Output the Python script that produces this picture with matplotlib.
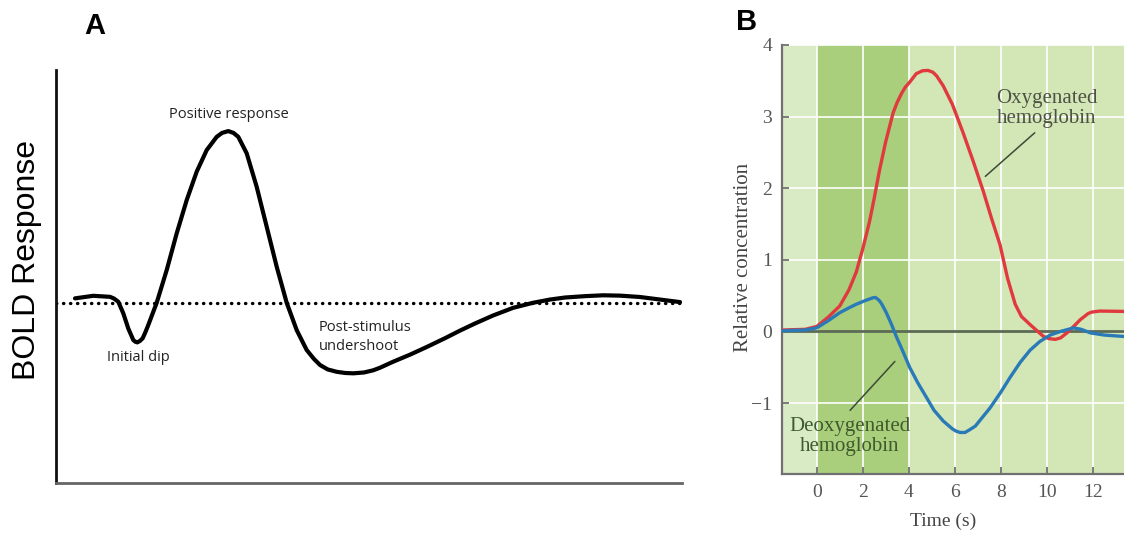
import matplotlib
matplotlib.use('Agg')
import matplotlib.pyplot as plt

# panel A: schematic BOLD response (arbitrary time / amplitude units)
bold_t = [0.759, 1.49, 2.157, 2.316, 2.488, 2.688, 2.887, 3.087, 3.167, 3.247, 3.347, 3.462,
          3.574, 3.686, 4.022, 4.421, 4.82, 5.22, 5.619, 6.018, 6.418, 6.63, 6.881, 7.09,
          7.28, 7.616, 8.015, 8.415, 8.814, 9.213, 9.613, 10.012, 10.3, 10.543, 10.85, 11.21,
          11.55, 11.873, 12.3, 12.672, 12.94, 13.46, 14.14, 14.82, 15.54, 16.13, 16.73,
          17.45, 18.25, 19.05, 19.73, 20.33, 21.13, 21.85, 22.52, 23.32, 24.12, 24.92]
bold_y = [0.026, 0.041, 0.035, 0.025, 0.006, -0.062, -0.151, -0.219, -0.229, -0.233, -0.225,
          -0.209, -0.172, -0.131, 0.0, 0.192, 0.408, 0.604, 0.771, 0.898, 0.976, 0.999, 1.01,
          0.999, 0.976, 0.879, 0.682, 0.447, 0.212, 0.0, -0.161, -0.278, -0.33, -0.366,
          -0.392, -0.406, -0.413, -0.415, -0.41, -0.397, -0.382, -0.347, -0.305, -0.259,
          -0.208, -0.164, -0.122, -0.075, -0.03, 0.0, 0.019, 0.031, 0.039, 0.044, 0.042,
          0.034, 0.019, 0.004]

# panel B: haemoglobin concentration vs time (s)
oxy_t = [-1.52, -0.5, 0, 0.5, 1.0, 1.4, 1.72, 2.0, 2.3, 2.5, 2.73, 3.0, 3.32, 3.5, 3.7,
         3.85, 4.04, 4.33, 4.6, 4.84, 5.05, 5.21, 5.5, 5.9, 6.37, 6.8, 7.24, 7.6, 7.97,
         8.3, 8.63, 8.9, 9.28, 9.86, 10.1, 10.37, 10.6, 10.88, 11.2, 11.46, 11.8, 11.95,
         12.3, 13.36]
oxy_y = [0.02, 0.03, 0.07, 0.2, 0.355, 0.58, 0.83, 1.15, 1.54, 1.86, 2.25, 2.65, 3.05, 3.2,
         3.33, 3.41, 3.48, 3.6, 3.64, 3.645, 3.62, 3.57, 3.43, 3.17, 2.77, 2.38, 1.96, 1.58,
         1.21, 0.74, 0.38, 0.21, 0.095, -0.07, -0.1, -0.11, -0.09, -0.02, 0.08, 0.165, 0.25,
         0.27, 0.285, 0.28]
deoxy_t = [-1.52, -0.5, 0, 0.5, 0.99, 1.4, 1.72, 2.1, 2.44, 2.55, 2.66, 2.75, 2.85, 3.03,
           3.25, 3.46, 3.75, 4.04, 4.4, 4.77, 5.1, 5.5, 5.9, 6.05, 6.23, 6.45, 6.66, 6.9,
           7.1, 7.53, 8.0, 8.41, 8.85, 9.28, 9.7, 10.15, 10.6, 11.17, 11.5, 11.9, 12.5, 13.36]
deoxy_y = [0.01, 0.02, 0.05, 0.15, 0.26, 0.33, 0.38, 0.43, 0.47, 0.475, 0.45, 0.42, 0.37,
           0.26, 0.1, -0.07, -0.28, -0.5, -0.72, -0.92, -1.1, -1.25, -1.36, -1.39, -1.41,
           -1.41, -1.37, -1.32, -1.24, -1.07, -0.85, -0.64, -0.43, -0.26, -0.14, -0.05, 0.0,
           0.05, 0.03, -0.02, -0.05, -0.07]
x_ticks = [0, 2, 4, 6, 8, 10, 12]
y_ticks = [-1, 0, 1, 2, 3, 4]
stim_on, stim_off = 0, 4

fig = plt.figure(figsize=(11.24, 5.33), dpi=100)

# ---- panel A ----
ax = fig.add_axes([0.0498, 0.0932, 0.557, 0.7754])
ax.set_xlim(0, 25)
ax.set_ylim(-1.062, 1.369)
ax.axhline(0, color='black', lw=2.4, linestyle=(0, (0.1, 2.0)), dash_capstyle='round')
ax.plot(bold_t, bold_y, color='black', lw=3, solid_capstyle='round', solid_joinstyle='round')
for s in ['top', 'right']:
    ax.spines[s].set_visible(False)
ax.spines['left'].set_color('#111111')
ax.spines['left'].set_linewidth(2)
ax.spines['bottom'].set_color('#666666')
ax.spines['bottom'].set_linewidth(2)
ax.set_xticks([])
ax.set_yticks([])
txt = dict(family='Open Sans', fontsize=10.5, color='#222222')
ax.text(6.9, 1.11, 'Positive response', ha='center', va='center', **txt)
ax.text(2.04, -0.32, 'Initial dip', ha='left', va='center', **txt)
ax.text(10.5, -0.2, 'Post-stimulus\nundershoot', ha='left', va='center', linespacing=1.35, **txt)
fig.text(0.024, 0.512, 'BOLD Response', rotation=90, ha='center', va='center',
         family='Liberation Sans', fontsize=23)
fig.text(0.0845, 0.952, 'A', ha='center', va='center', family='Liberation Sans',
         fontweight='bold', fontsize=21)
fig.text(0.6646, 0.958, 'B', ha='center', va='center', family='Liberation Sans',
         fontweight='bold', fontsize=21)

# ---- panel B ----
bx = fig.add_axes([0.6955, 0.1107, 0.3045, 0.8049])
bx.set_xlim(-1.52, 13.36)
bx.set_ylim(-1.99, 4)
bx.axvspan(-1.52, stim_on, color='#d9ebc5', lw=0, zorder=0)
bx.axvspan(stim_on, stim_off, color='#a9cf7d', lw=0, zorder=0)
bx.axvspan(stim_off, 13.36, color='#d3e6b6', lw=0, zorder=0)
for xv in x_ticks:
    bx.axvline(xv, color='white', lw=1.4, alpha=0.85, zorder=1)
for yv in y_ticks:
    if yv != 0:
        bx.axhline(yv, color='white', lw=1.4, alpha=0.85, zorder=1)
bx.axhline(0, color='#5d6a55', lw=2, zorder=2)
bx.plot(oxy_t, oxy_y, color='#e0393e', lw=2.4, zorder=3, solid_joinstyle='round')
bx.plot(deoxy_t, deoxy_y, color='#2a7ab8', lw=2.4, zorder=4, solid_joinstyle='round')
for s in ['top', 'right']:
    bx.spines[s].set_visible(False)
for s in ['left', 'bottom']:
    bx.spines[s].set_color('#707070')
    bx.spines[s].set_linewidth(1.6)
bx.set_xticks(x_ticks)
bx.set_yticks(y_ticks)
bx.set_yticklabels(['\u22121', '0', '1', '2', '3', '4'])
bx.tick_params(direction='in', length=5, width=1.3, color='#707070', labelcolor='#555555',
               labelsize=14, pad=7)
for lab in bx.get_xticklabels() + bx.get_yticklabels():
    lab.set_family('Liberation Serif')
bx.text(0.471, -0.11, 'Time (s)', transform=bx.transAxes, ha='center', va='center',
        family='Liberation Serif', fontsize=14, color='#444444')
bx.text(-0.113, 0.505, 'Relative concentration', transform=bx.transAxes, rotation=90,
        ha='center', va='center', family='Liberation Serif', fontsize=15, color='#444444')

bx.annotate('', xy=(7.24, 2.14), xytext=(9.57, 2.80),
            arrowprops=dict(arrowstyle='-', color='#3d4a36', lw=1.1))
bx.text(10.01, 3.11, 'Oxygenated\nhemoglobin', ha='center', va='center', family='Liberation Serif',
        fontsize=15, color='#4d5245', linespacing=1.05)
bx.annotate('', xy=(3.48, -0.39), xytext=(1.37, -1.13),
            arrowprops=dict(arrowstyle='-', color='#3d4a36', lw=1.1))
bx.text(1.44, -1.47, 'Deoxygenated\nhemoglobin', ha='center', va='center', family='Liberation Serif',
        fontsize=15, color='#3f5a2c', linespacing=1.05)

fig.savefig('out.png', dpi=100)
